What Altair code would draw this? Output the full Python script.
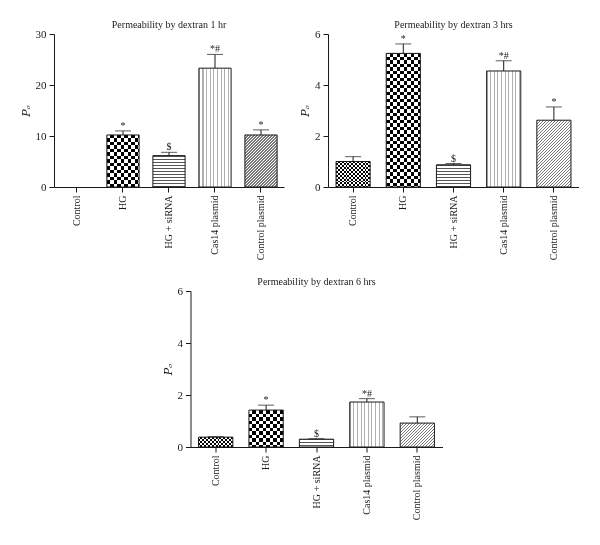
import altair as alt
import pandas as pd

categories = ["Control", "HG", "HG + siRNA", "Cas14 plasmid", "Control plasmid"]
patterns = ["checker_fine", "checker", "hstripe", "vstripe", "diag"]

vals_1hr = [0.0, 10.2, 6.15, 23.3, 10.2]
errs_1hr = [0.0, 11.0, 6.8, 26.0, 11.2]
marks_1hr = ["", "*", "$", "*#", "*"]

vals_3hr = [1.0, 5.24, 0.87, 4.55, 2.62]
errs_3hr = [1.19, 5.61, 0.92, 4.95, 3.14]
marks_3hr = ["", "*", "$", "*#", "*"]

vals_6hr = [0.38, 1.42, 0.30, 1.73, 0.92]
errs_6hr = [0.40, 1.61, 0.32, 1.86, 1.16]
marks_6hr = ["", "*", "$", "*#", ""]

FONT = "Liberation Serif"
INK = "#1a1a1a"


def stripe_stops(period, duty, c_on, c_off):
    stops = []
    k = 0
    while k * period < 1:
        a = round(k * period, 5)
        b = round(min((k + duty) * period, 1.0), 5)
        c = round(min((k + 1) * period, 1.0), 5)
        stops += [alt.GradientStop(color=c_on, offset=a), alt.GradientStop(color=c_on, offset=b),
                  alt.GradientStop(color=c_off, offset=b), alt.GradientStop(color=c_off, offset=c)]
        k += 1
    return stops


def grad(stops, x1, y1, x2, y2):
    return alt.LinearGradient(gradient="linear", stops=stops, x1=x1, y1=y1, x2=x2, y2=y2)


def make_panel(title, vals, errs, marks, ymax, yticks, width, height, pin, pout):
    df = pd.DataFrame({"cat": categories, "idx": list(range(5)), "value": vals,
                       "err": errs, "mark": marks})
    step = width / (5 - pin + 2 * pout)
    W = step * (1 - pin)

    xenc = alt.X("cat:N", sort=categories,
                 scale=alt.Scale(domain=categories, paddingInner=pin, paddingOuter=pout),
                 axis=alt.Axis(title=None, labelAngle=270, labelFontSize=10, labelFont=FONT,
                               tickSize=5, labelPadding=3, domainColor=INK, tickColor=INK,
                               labelColor=INK))

    def yenc(field):
        return alt.Y(field, scale=alt.Scale(domain=[0, ymax], nice=False),
                     axis=alt.Axis(values=yticks, title="Pₒ", titleFontStyle="italic",
                                   titleFontWeight="normal", titleFontSize=11,
                                   titleFont="DejaVu Serif",
                                   titlePadding=4, labelFontSize=11, labelFont=FONT,
                                   tickSize=5, labelPadding=3, grid=False, domainColor=INK,
                                   tickColor=INK, labelColor=INK, titleColor=INK))

    base = alt.Chart(df)
    layers = []
    for i in range(5):
        v = vals[i]
        if v <= 0:
            continue
        H = v / ymax * height
        kind = patterns[i]
        sub = base.transform_filter(alt.datum.idx == i)
        enc = dict(x=xenc, y=yenc("value:Q"))
        if kind in ("checker", "checker_fine"):
            cell = 3.5 if kind == "checker" else 1.9
            ga = grad(stripe_stops(2 * cell / W, 0.5, "#000000", "#ffffff"), 0, 0, 1, 0)
            gb = grad(stripe_stops(2 * cell / H, 0.5, "#ffffff", "#000000"), 0, 0, 0, 1)
            layers.append(sub.mark_bar(fill=ga).encode(**enc))
            layers.append(sub.mark_bar(fill=gb, blend="difference").encode(**enc))
        elif kind == "hstripe":
            g = grad(stripe_stops(3.0 / H, 0.4, "#555555", "#ffffff"), 0, 0, 0, 1)
            layers.append(sub.mark_bar(fill=g).encode(**enc))
        elif kind == "vstripe":
            g = grad(stripe_stops(3.6 / W, 0.28, "#b0b0b0", "#ffffff"), 0, 0, 1, 0)
            layers.append(sub.mark_bar(fill=g).encode(**enc))
        else:
            c = (W + H) / (W * W + H * H)
            g = grad(stripe_stops(3.0 / (W + H), 0.4, "#7a7a7a", "#ffffff"), 0, 0, c * W, c * H)
            layers.append(sub.mark_bar(fill=g).encode(**enc))

    outline = base.transform_filter(alt.datum.value > 0).mark_bar(
        fillOpacity=0, stroke=INK, strokeWidth=1).encode(x=xenc, y=yenc("value:Q"))
    ebase = base.transform_filter(alt.datum.err > alt.datum.value)
    rule = ebase.mark_rule(color=INK, strokeWidth=1).encode(x=xenc, y=yenc("value:Q"), y2="err:Q")
    cap = ebase.mark_tick(color=INK, size=16, thickness=1).encode(x=xenc, y=yenc("err:Q"))
    txt = base.transform_filter(alt.datum.mark != "").mark_text(
        font=FONT, fontSize=10, color=INK, baseline="alphabetic", dy=-2).encode(
        x=xenc, y=yenc("err:Q"), text="mark:N")

    return alt.layer(*layers, outline, rule, cap, txt).properties(
        width=width, height=height,
        title=alt.TitleParams(title, font=FONT, fontSize=10, fontWeight="normal",
                              anchor="middle", frame="group", offset=-2, color=INK))


p1 = make_panel("Permeability by dextran 1 hr", vals_1hr, errs_1hr, marks_1hr, 30,
                [0, 10, 20, 30], 230, 153, 0.3, 0.15)
p2 = make_panel("Permeability by dextran 3 hrs", vals_3hr, errs_3hr, marks_3hr, 6,
                [0, 2, 4, 6], 251, 153, 0.32, 0.16)
p3 = make_panel("Permeability by dextran 6 hrs", vals_6hr, errs_6hr, marks_6hr, 6,
                [0, 2, 4, 6], 252, 156, 0.32, 0.16)

chart = alt.vconcat(alt.hconcat(p1, p2, spacing=15), p3, spacing=17, center=True).properties(
    padding={"left": 12, "top": 12, "right": 0, "bottom": 0},
    background="white"
).configure_view(stroke="transparent", strokeWidth=0)

chart.save("out.html", embed_options={"renderer": "svg", "actions": False})
